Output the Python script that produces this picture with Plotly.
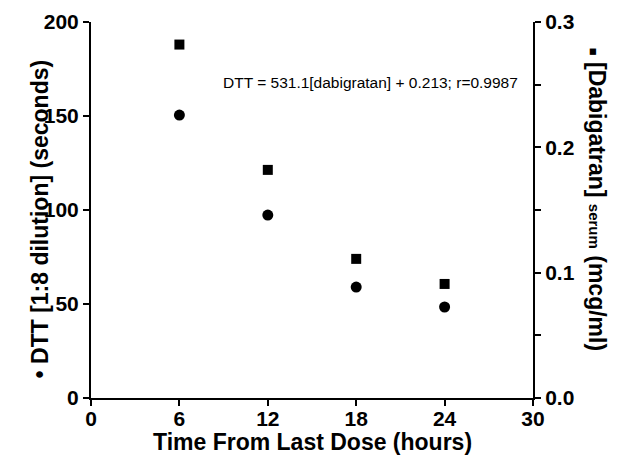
import plotly.graph_objects as go

# data
hours = [6, 12, 18, 24]
dtt_seconds = [150.5, 97.3, 59.0, 48.4]          # circles, left axis
dabigatran_serum = [0.282, 0.182, 0.111, 0.091]  # squares, right axis

x_ticks = [0, 6, 12, 18, 24, 30]
FIT_TEXT = "DTT = 531.1[dabigratan] + 0.213; r=0.9987"

FONT = "Liberation Sans, Arial, sans-serif"
BOLD = dict(family=FONT, size=21, color="black", weight="bold")
TITLE = dict(family=FONT, size=23, color="black", weight="bold")

fig = go.Figure()
fig.add_trace(go.Scatter(
    x=hours, y=dtt_seconds, mode="markers", name="DTT",
    marker=dict(symbol="circle", size=11, color="black"),
))
fig.add_trace(go.Scatter(
    x=hours, y=dabigatran_serum, mode="markers", name="Dabigatran", yaxis="y2",
    marker=dict(symbol="square", size=10, color="black"),
))

axis_common = dict(
    showline=True, linecolor="black", linewidth=2, mirror=False,
    ticks="outside", ticklen=6, tickwidth=2, tickcolor="black",
    showgrid=False, zeroline=False, tickfont=BOLD, automargin=False,
)

# the page body adds an 8px margin, so the figure is 8px smaller each way
fig.update_layout(
    width=609, height=448,
    margin=dict(l=83, r=84, t=14, b=58),
    plot_bgcolor="white", paper_bgcolor="white",
    showlegend=False,
    xaxis=dict(range=[0, 30], tickvals=x_ticks, ticklabelstandoff=-5,
               **axis_common),
    yaxis=dict(range=[0, 200], dtick=50, **axis_common),
    yaxis2=dict(
        range=[0, 0.3], dtick=0.1, tickformat=".1f", overlaying="y", side="right",
        minor=dict(dtick=0.05, ticks="outside", ticklen=6, tickwidth=2,
                   tickcolor="black", showgrid=False),
        **axis_common,
    ),
    annotations=[
        dict(text=FIT_TEXT, xref="paper", yref="paper", x=0.9706, y=0.84,
             xanchor="right", yanchor="middle", showarrow=False,
             font=dict(family=FONT, size=15.5, color="black")),
        # axis titles placed by hand (right one reads top-to-bottom)
        dict(text="Time From Last Dose (hours)", xref="paper", yref="paper",
             x=0.5, y=-44 / 376, xanchor="center", yanchor="middle",
             showarrow=False, font=TITLE),
        dict(text="• DTT [1:8 dilution] (seconds)", xref="paper", yref="paper",
             x=-51 / 442, y=0.475, xanchor="center", yanchor="middle",
             textangle=-90, showarrow=False, font=TITLE),
        dict(text="<span style='font-size:13px'>■</span> [Dabigatran] "
                  "<span style='font-size:15px'>serum</span> (mcg/ml)",
             xref="paper", yref="paper", x=1 + 64 / 442, y=0.53,
             xanchor="center", yanchor="middle", textangle=90,
             showarrow=False, font=TITLE),
    ],
)

fig.write_html("out.html")
